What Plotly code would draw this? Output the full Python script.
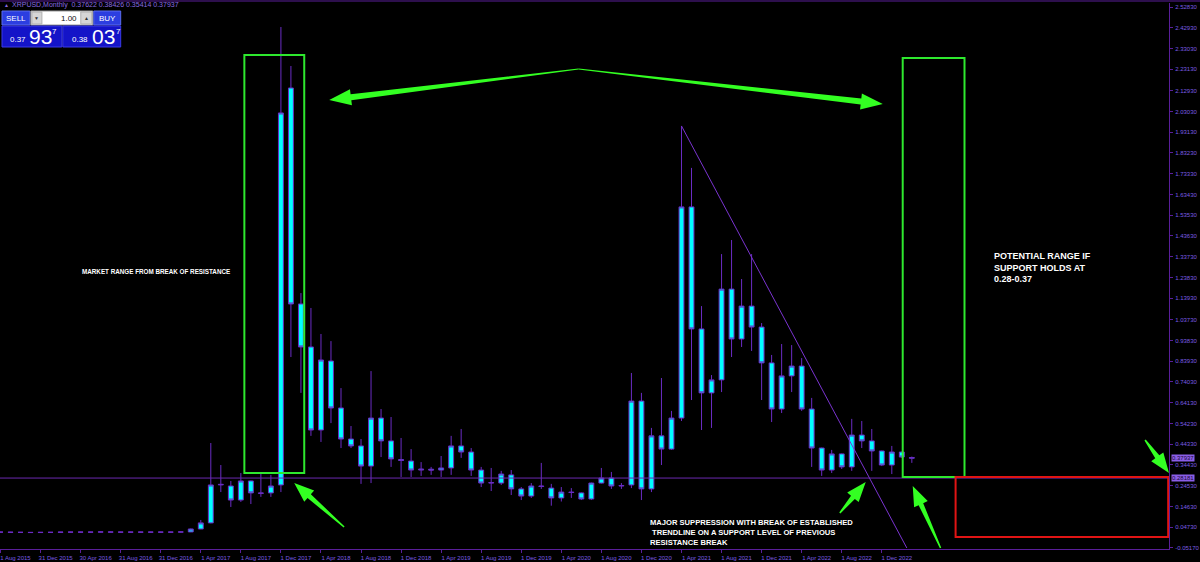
import math
import plotly.graph_objects as go

# ---------------- data (XRPUSD monthly, Aug 2015 .. Mar 2023) ----------------
months = ["2015-08","2015-09","2015-10","2015-11","2015-12","2016-01","2016-02","2016-03",
          "2016-04","2016-05","2016-06","2016-07","2016-08","2016-09","2016-10","2016-11",
          "2016-12","2017-01","2017-02","2017-03","2017-04","2017-05","2017-06","2017-07",
          "2017-08","2017-09","2017-10","2017-11","2017-12","2018-01","2018-02","2018-03",
          "2018-04","2018-05","2018-06","2018-07","2018-08","2018-09","2018-10","2018-11",
          "2018-12","2019-01","2019-02","2019-03","2019-04","2019-05","2019-06","2019-07",
          "2019-08","2019-09","2019-10","2019-11","2019-12","2020-01","2020-02","2020-03",
          "2020-04","2020-05","2020-06","2020-07","2020-08","2020-09","2020-10","2020-11",
          "2020-12","2021-01","2021-02","2021-03","2021-04","2021-05","2021-06","2021-07",
          "2021-08","2021-09","2021-10","2021-11","2021-12","2022-01","2022-02","2022-03",
          "2022-04","2022-05","2022-06","2022-07","2022-08","2022-09","2022-10","2022-11",
          "2022-12","2023-01","2023-02","2023-03"]

opens = [0.024,0.024,0.023,0.023,0.022,0.023,0.023,0.024,0.024,0.024,0.024,0.025,0.024,0.024,
         0.024,0.024,0.024,0.024,0.024,0.025,0.039,0.068,0.252,0.244,0.177,0.268,0.211,0.211,
         0.249,2.142,1.112,0.907,0.511,0.840,0.616,0.468,0.435,0.339,0.568,0.459,0.370,0.363,
         0.320,0.324,0.320,0.330,0.435,0.406,0.320,0.258,0.258,0.297,0.230,0.196,0.244,0.234,
         0.187,0.215,0.211,0.182,0.258,0.282,0.244,0.249,0.649,0.230,0.483,0.420,0.568,1.575,
         0.993,0.688,0.750,1.183,0.945,1.102,1.002,0.831,0.611,0.769,0.816,0.611,0.425,0.320,
         0.397,0.335,0.487,0.459,0.411,0.344,0.406,0.37622]
highs = [0.025,0.025,0.024,0.024,0.023,0.024,0.024,0.025,0.025,0.025,0.026,0.026,0.025,0.025,
         0.025,0.025,0.025,0.025,0.025,0.041,0.082,0.449,0.344,0.268,0.306,0.270,0.306,0.297,
         2.433,2.247,1.164,1.093,0.969,0.935,0.711,0.530,0.468,0.792,0.611,0.573,0.473,0.420,
         0.358,0.335,0.387,0.483,0.516,0.425,0.335,0.330,0.316,0.320,0.239,0.258,0.354,0.254,
         0.239,0.234,0.213,0.260,0.330,0.311,0.258,0.783,0.688,0.521,0.759,0.602,1.961,1.761,
         1.102,0.773,1.350,1.417,1.231,1.350,1.021,0.869,0.921,0.916,0.854,0.664,0.427,0.416,
         0.399,0.564,0.554,0.516,0.413,0.435,0.408,0.38426]
lows = [0.023,0.023,0.022,0.022,0.021,0.022,0.022,0.023,0.023,0.023,0.023,0.024,0.023,0.023,
        0.023,0.023,0.023,0.023,0.023,0.024,0.038,0.066,0.215,0.144,0.168,0.158,0.192,0.192,
        0.215,0.859,0.688,0.483,0.454,0.544,0.425,0.425,0.254,0.258,0.382,0.335,0.287,0.287,
        0.292,0.297,0.287,0.297,0.378,0.292,0.239,0.220,0.249,0.201,0.177,0.187,0.230,0.150,
        0.170,0.187,0.177,0.177,0.256,0.230,0.230,0.234,0.177,0.215,0.344,0.416,0.554,0.654,
        0.511,0.521,0.692,0.859,0.907,0.888,0.654,0.549,0.592,0.692,0.602,0.335,0.292,0.306,
        0.325,0.316,0.425,0.316,0.339,0.301,0.378,0.35414]
closes = [0.024,0.023,0.023,0.022,0.023,0.023,0.024,0.024,0.024,0.024,0.025,0.024,0.024,0.024,
          0.024,0.024,0.024,0.024,0.025,0.039,0.068,0.249,0.250,0.177,0.268,0.211,0.209,0.244,
          2.023,1.112,0.907,0.511,0.845,0.616,0.468,0.435,0.339,0.568,0.459,0.373,0.366,0.320,
          0.324,0.320,0.330,0.435,0.406,0.320,0.258,0.260,0.301,0.230,0.196,0.244,0.242,0.187,
          0.215,0.213,0.182,0.258,0.282,0.244,0.246,0.649,0.230,0.483,0.420,0.568,1.575,0.993,
          0.688,0.750,1.183,0.945,1.102,1.002,0.831,0.611,0.769,0.816,0.611,0.425,0.320,0.397,
          0.335,0.487,0.459,0.411,0.344,0.406,0.382,0.37937]

x_tick_idx = [0,4,8,12,16,20,24,28,32,36,40,44,48,52,56,60,64,68,72,76,80,84,88]
x_tick_text = ["1 Aug 2015","31 Dec 2015","30 Apr 2016","31 Aug 2016","31 Dec 2016",
               "1 Apr 2017","1 Aug 2017","1 Dec 2017","1 Apr 2018","1 Aug 2018","1 Dec 2018",
               "1 Apr 2019","1 Aug 2019","1 Dec 2019","1 Apr 2020","1 Aug 2020","1 Dec 2020",
               "1 Apr 2021","1 Aug 2021","1 Dec 2021","1 Apr 2022","1 Aug 2022","1 Dec 2022"]
y_tick_text = ["2.52830","2.42930","2.33030","2.23130","2.12930","2.03030","1.93130","1.83230",
               "1.73330","1.63430","1.53530","1.43630","1.33730","1.23830","1.13930","1.03730",
               "0.93830","0.83930","0.74030","0.64130","0.54230","0.44330","0.34430","0.24530",
               "0.14630","0.04730","-0.05170"]

support_level = 0.28181
last_price = 0.37937
header_text = "XRPUSD,Monthly  0.37622 0.38426 0.35414 0.37937"

# drawing objects anchored in (bar index, price)
trend_start = (68, 1.961)
trend_end = (90.5, -0.0517)
green_boxes = [((24.35, 2.2994), (30.33, 0.3061)), ((90.09, 2.2851), (96.26, 0.2871))]
red_box = ((95.37, 0.2871), (116.6, 0.0009))
big_arrow_tail = (57.72, 2.2327)
big_arrow_heads = [(32.82, 2.0848), (88.10, 2.0658)]
small_arrows = [((34.31, 0.0486), (29.33, 0.2584)),
                ((83.81, 0.1154), (86.40, 0.2632)),
                ((93.87, -0.0515), (91.09, 0.2441)),
                ((114.29, 0.4635), (116.68, 0.3061))]

# ---------------- figure ----------------
X0, X1 = -0.05, 116.68
Y0, Y1 = -0.0565, 2.5474
PW, PH, PT = 1172.0, 546.0, 3.0

def to_px(ix, p):
    return (ix - X0) / (X1 - X0) * PW, PT + (Y1 - p) / (Y1 - Y0) * PH

def to_data(px, py):
    return X0 + px / PW * (X1 - X0), Y1 - (py - PT) / PH * (Y1 - Y0)

def arrow_path(tail, head, tw=1.0, sw=6.0, hw=15.0, hl=20.0):
    tx, ty = to_px(*tail)
    hx, hy = to_px(*head)
    dx, dy = hx - tx, hy - ty
    L = math.hypot(dx, dy)
    ux, uy = dx / L, dy / L
    nx, ny = -uy, ux
    bx, by = hx - ux * hl, hy - uy * hl
    pts = [(tx + nx * tw / 2, ty + ny * tw / 2), (bx + nx * sw / 2, by + ny * sw / 2),
           (bx + nx * hw / 2, by + ny * hw / 2), (hx, hy),
           (bx - nx * hw / 2, by - ny * hw / 2), (bx - nx * sw / 2, by - ny * sw / 2),
           (tx - nx * tw / 2, ty - ny * tw / 2)]
    dpts = [to_data(*p) for p in pts]
    return "M " + " L ".join(f"{a:.4f},{b:.5f}" for a, b in dpts) + " Z"

PURPLE = "#6a2cc4"
AXIS = "#5a1e9a"
LABEL = "#7a5ce0"
GREEN = "#2ee82e"
ARROW_GREEN = "#33ff22"

x_idx = list(range(len(months)))

fig = go.Figure()
fig.add_trace(go.Candlestick(
    x=x_idx, open=opens, high=highs, low=lows, close=closes,
    increasing=dict(line=dict(color=PURPLE, width=1), fillcolor="#00ffff"),
    decreasing=dict(line=dict(color=PURPLE, width=1), fillcolor="#00ffff"),
    whiskerwidth=0, hoverinfo="skip", name="XRPUSD"))

shapes = []
shapes.append(dict(type="line", xref="paper", x0=0, x1=1, yref="y", y0=support_level, y1=support_level,
                   line=dict(color="#6a28b0", width=1)))
shapes.append(dict(type="line", xref="x", yref="y", x0=trend_start[0], y0=trend_start[1],
                   x1=trend_end[0], y1=trend_end[1], line=dict(color="#7a34d0", width=1)))
for (a, b) in green_boxes:
    shapes.append(dict(type="rect", xref="x", yref="y", x0=a[0], y0=a[1], x1=b[0], y1=b[1],
                       line=dict(color=GREEN, width=2)))
shapes.append(dict(type="rect", xref="x", yref="y", x0=red_box[0][0], y0=red_box[0][1],
                   x1=red_box[1][0], y1=red_box[1][1], line=dict(color="#e01414", width=2)))
for h in big_arrow_heads:
    shapes.append(dict(type="path", xref="x", yref="y", path=arrow_path(big_arrow_tail, h, 1.0, 6.0, 16.0, 22.0),
                       fillcolor=ARROW_GREEN, line=dict(width=0)))
for t, h in small_arrows:
    shapes.append(dict(type="path", xref="x", yref="y", path=arrow_path(t, h, 1.5, 5.0, 15.0, 20.0),
                       fillcolor=ARROW_GREEN, line=dict(width=0)))

def pxp(x):
    return x / PW

def pyp(y):
    return (PT + PH - y) / PH

shapes.append(dict(type="line", xref="paper", yref="paper", x0=0, x1=1.03, y0=pyp(1), y1=pyp(1),
                   line=dict(color=AXIS, width=1)))

def prect(x0, y0, x1, y1, fill, line):
    return dict(type="rect", xref="paper", yref="paper", x0=pxp(x0), x1=pxp(x1), y0=pyp(y1), y1=pyp(y0),
                fillcolor=fill, line=dict(color=line, width=1), layer="above")

shapes += [prect(2, 11, 30, 25, "#2c3ee0", "#5a6cf0"),
           prect(31, 11, 93, 25, "#ffffff", "#9a9a9a"),
           prect(32, 12, 42, 24, "#d6d6d6", "#b0b0b0"),
           prect(81, 12, 92, 24, "#d6d6d6", "#b0b0b0"),
           prect(94, 11, 121, 25, "#2c3ee0", "#5a6cf0"),
           prect(2, 26, 62, 47, "#1414c8", "#3a3ae8"),
           prect(63, 26, 121, 47, "#1414c8", "#3a3ae8")]

ann = []
def ptext(x, y, s, size, color, xanchor="left", family="Liberation Sans", bold=False):
    return dict(xref="paper", yref="paper", x=pxp(x), y=pyp(y), text=s, showarrow=False,
                xanchor=xanchor, yanchor="middle",
                font=dict(size=size, color=color, family=family, weight="bold" if bold else "normal"))

ann += [ptext(2, 5, "▲", 5, "#8a6ae0"),
        ptext(10, 5, header_text, 7, "#8a6ae0"),
        ptext(16, 18, "SELL", 8, "white", "center"),
        ptext(37, 18, "▼", 5, "#333333", "center"),
        ptext(79, 18, "1.00", 8, "#111111", "right"),
        ptext(86.5, 18, "▲", 5, "#333333", "center"),
        ptext(108, 18, "BUY", 8, "white", "center"),
        ptext(8, 40, "0.37", 8, "white"),
        ptext(27, 36, "93", 21, "white"),
        ptext(50, 31, "7", 8, "white"),
        ptext(70, 40, "0.38", 8, "white"),
        ptext(90, 36, "03", 21, "white"),
        ptext(114, 31, "7", 8, "white")]

for lvl in [last_price, support_level]:
    ann.append(dict(xref="paper", yref="y", x=1.0015, y=lvl, text=f"{lvl:.5f}", showarrow=False,
                    xanchor="left", yanchor="middle", bgcolor="#8a5ee6", borderpad=0,
                    font=dict(size=6, color="#1a0838", family="Liberation Sans")))

ann.append(dict(xref="x", yref="y", x=15.49, y=1.2646, text="MARKET RANGE FROM BREAK OF RESISTANCE",
                showarrow=False, xanchor="center", yanchor="middle",
                font=dict(size=6.3, color="white", family="Liberation Sans", weight="bold")))
ann.append(dict(xref="x", yref="y", x=99.05, y=1.372,
                text="POTENTIAL RANGE IF<br>SUPPORT HOLDS AT<br>0.28-0.37",
                showarrow=False, xanchor="left", yanchor="top", align="left",
                font=dict(size=9, color="white", family="Liberation Sans", weight="bold")))
ann.append(dict(xref="x", yref="y", x=64.69, y=0.100,
                text="MAJOR SUPPRESSION WITH BREAK OF ESTABLISHED<br> TRENDLINE ON A SUPPORT LEVEL OF PREVIOUS<br>RESISTANCE BREAK",
                showarrow=False, xanchor="left", yanchor="top", align="left",
                font=dict(size=7.6, color="white", family="Liberation Sans", weight="bold")))

fig.update_layout(
    width=1200, height=562,
    margin=dict(l=0, r=28, t=3, b=13),
    paper_bgcolor="black", plot_bgcolor="black",
    showlegend=False,
    shapes=shapes, annotations=ann,
    xaxis=dict(range=[X0, X1], tickmode="array", tickvals=x_tick_idx, ticktext=x_tick_text,
               tickfont=dict(size=6, color=LABEL, family="Liberation Sans"),
               showgrid=False, zeroline=False, showline=True, linecolor=AXIS, linewidth=1,
               ticks="outside", ticklen=3, tickcolor=AXIS, ticklabelshift=15, ticklabelstandoff=0,
               rangeslider=dict(visible=False), fixedrange=True),
    yaxis=dict(side="right", range=[Y0, Y1], tickmode="array",
               tickvals=[float(t) for t in y_tick_text], ticktext=y_tick_text,
               tickfont=dict(size=6, color=LABEL, family="Liberation Sans"),
               showgrid=False, zeroline=False, showline=True, linecolor=AXIS, linewidth=1,
               ticks="outside", ticklen=3, tickcolor=AXIS, ticklabelstandoff=1, fixedrange=True),
)

fig.write_html("out.html", config={"displayModeBar": False},
               post_script="document.body.style.margin='0';document.body.style.overflow='hidden';")
